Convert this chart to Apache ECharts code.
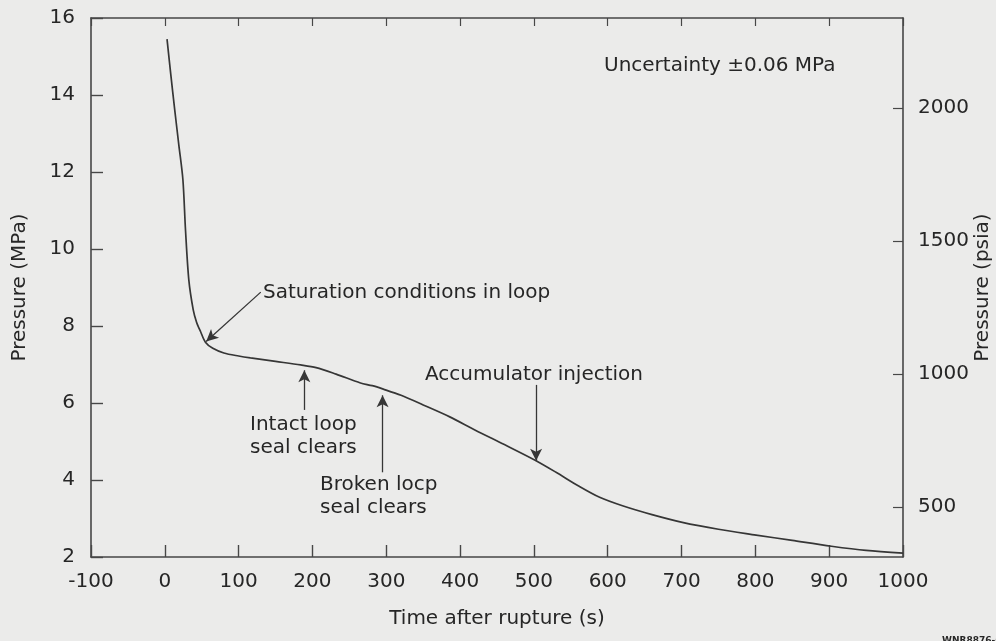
<!DOCTYPE html>
<html>
<head>
<meta charset="utf-8">
<script src="https://cdn.jsdelivr.net/npm/echarts@6/dist/echarts.min.js"></script>
<style>
  html, body { margin: 0; padding: 0; background: #ebebea; }
  #chart { width: 996px; height: 641px; }
</style>
</head>
<body>
<div id="chart"></div>
<script>
// pressure trace: time (s), pressure (MPa)
const times = [3, 8, 13.5, 19, 24.5, 28, 32.5, 38.5, 43, 48.5, 55, 65, 80, 100, 116, 150, 184, 205, 232, 265, 281, 296, 320, 350, 386, 420, 460, 501, 530, 560, 589, 620, 660, 701, 750, 801, 850, 903, 950, 1000];
const pressures = [15.45, 14.55, 13.6, 12.7, 11.8, 10.5, 9.2, 8.42, 8.1, 7.85, 7.58, 7.42, 7.3, 7.22, 7.17, 7.08, 6.99, 6.92, 6.75, 6.52, 6.45, 6.36, 6.2, 5.95, 5.64, 5.3, 4.92, 4.52, 4.2, 3.85, 3.55, 3.33, 3.1, 2.9, 2.72, 2.57, 2.43, 2.28, 2.17, 2.1];

const psiaTicks = [500, 1000, 1500, 2000];

// annotation arrows: [tailT, tailP, tipT, tipP]
const arrows = [
  [130, 8.88, 56, 7.6],    // saturation
  [189, 5.82, 189, 6.85],  // intact loop
  [295, 4.2, 295, 6.2],    // broken loop
  [503, 6.47, 503, 4.5]    // accumulator
];

const FONT = "DejaVu Sans";
const INK = "#262626";
const AX = "#474747";

const chart = echarts.init(document.getElementById("chart"));

const txt = (left, top, text, extra) => ({
  type: "text",
  left: left,
  top: top,
  style: Object.assign({
    text: text,
    font: "20px '" + FONT + "'",
    fill: INK,
    lineHeight: 23
  }, extra || {})
});

const plain = v => String(v);

const option = {
  backgroundColor: "#ebebea",
  animation: false,
  grid: { left: 91, right: 93, top: 18, bottom: 84, outerBoundsMode: "none", containLabel: false },
  xAxis: [
    {
      type: "value",
      min: -100,
      max: 1000,
      interval: 100,
      name: "Time after rupture (s)",
      nameLocation: "middle",
      nameGap: 52,
      nameTextStyle: { fontFamily: FONT, fontSize: 20, color: INK },
      axisLine: { onZero: false, lineStyle: { color: AX, width: 1.6 } },
      axisTick: { inside: true, length: 12, lineStyle: { color: AX, width: 1.4 } },
      axisLabel: { fontFamily: FONT, fontSize: 20, color: INK, margin: 15, formatter: plain },
      splitLine: { show: false }
    },
    {
      type: "value",
      position: "top",
      min: -100,
      max: 1000,
      interval: 100,
      axisLine: { onZero: false, lineStyle: { color: AX, width: 1.6 } },
      axisTick: { inside: true, length: 8, lineStyle: { color: AX, width: 1.2 } },
      axisLabel: { show: false },
      splitLine: { show: false }
    }
  ],
  yAxis: [
    {
      type: "value",
      min: 2,
      max: 16,
      interval: 2,
      name: "Pressure (MPa)",
      nameLocation: "middle",
      nameGap: 61,
      nameTextStyle: { fontFamily: FONT, fontSize: 20, color: INK },
      axisLine: { show: true, onZero: false, lineStyle: { color: AX, width: 1.6 } },
      axisTick: { show: true, inside: true, length: 12, lineStyle: { color: AX, width: 1.4 } },
      axisLabel: { fontFamily: FONT, fontSize: 20, color: INK, margin: 16 },
      splitLine: { show: false }
    },
    {
      type: "value",
      position: "right",
      min: 312,
      max: 2338,
      name: "Pressure (psia)",
      nameLocation: "middle",
      nameRotate: 90,
      nameGap: 70,
      nameMoveOverlap: false,
      nameTextStyle: { fontFamily: FONT, fontSize: 20, color: INK },
      axisLine: { show: true, onZero: false, lineStyle: { color: AX, width: 1.6 } },
      axisTick: { show: true, inside: true, length: 10, customValues: psiaTicks, lineStyle: { color: AX, width: 1.2 } },
      axisLabel: { fontFamily: FONT, fontSize: 20, color: INK, margin: 15, customValues: psiaTicks, formatter: plain },
      splitLine: { show: false }
    }
  ],
  series: [
    {
      type: "line",
      data: times.map((t, i) => [t, pressures[i]]),
      showSymbol: false,
      smooth: 0.3,
      lineStyle: { color: "#363636", width: 1.7 },
      markLine: {
        silent: true,
        symbol: ["none", "arrow"],
        symbolSize: [9, 12],
        label: { show: false },
        lineStyle: { color: "#363636", width: 1.3, type: "solid" },
        data: arrows.map(a => [
          { coord: [a[0], a[1]] },
          { coord: [a[2], a[3]] }
        ])
      }
    }
  ],
  graphic: [
    txt(604, 54, "Uncertainty \u00b10.06 MPa"),
    txt(263, 281, "Saturation conditions in loop"),
    txt(250, 413, "Intact loop\nseal clears"),
    txt(320, 473, "Broken locp\nseal clears"),
    txt(425, 363, "Accumulator injection"),
    txt(942, 629, "WNR8876-6", { font: "bold 9px '" + FONT + "'" })
  ]
};

chart.setOption(option);
</script>
</body>
</html>
